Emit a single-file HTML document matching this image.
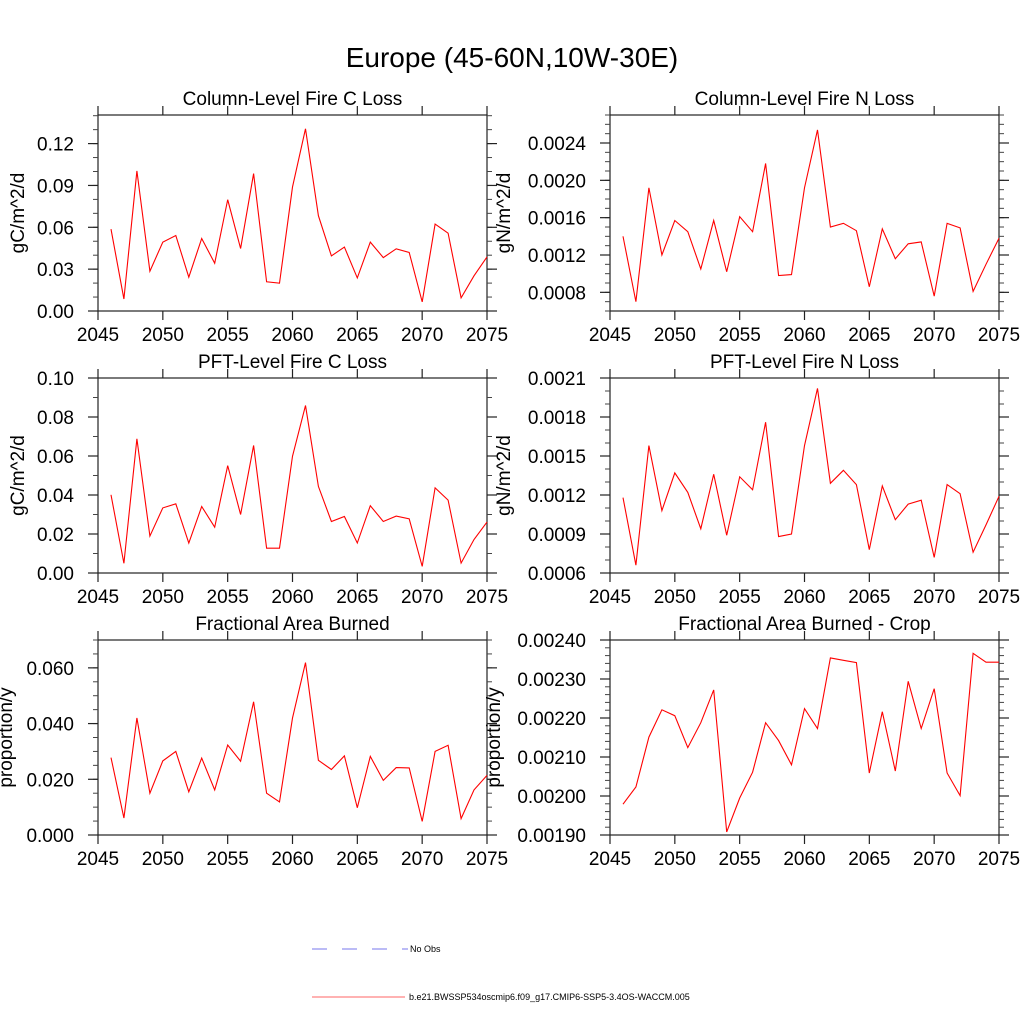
<!DOCTYPE html>
<html><head><meta charset="utf-8"><style>
body{margin:0;background:#fff;}
svg{display:block;font-family:"Liberation Sans",sans-serif;}
</style></head><body>
<svg id="fig" width="1024" height="1024" viewBox="0 0 1024 1024">
<text x="512" y="67" font-size="28" text-anchor="middle">Europe (45-60N,10W-30E)</text>
<g>
<line x1="312" y1="949" x2="408" y2="949" stroke="#7777ee" stroke-width="1" stroke-dasharray="15,15"/>
<text x="410" y="952" font-size="9">No Obs</text>
<line x1="312" y1="997" x2="405" y2="997" stroke="#ff6666" stroke-width="1"/>
<text x="409" y="1000" font-size="9">b.e21.BWSSP534oscmip6.f09_g17.CMIP6-SSP5-3.4OS-WACCM.005</text>
</g>
</svg>
<script>
const years = [2046,2047,2048,2049,2050,2051,2052,2053,2054,2055,2056,2057,2058,2059,2060,2061,2062,2063,2064,2065,2066,2067,2068,2069,2070,2071,2072,2073,2074,2075];
const colFireC = [0.0587,0.0086,0.1004,0.0285,0.0494,0.0541,0.0242,0.0520,0.0343,0.0798,0.0448,0.0985,0.0209,0.0199,0.0889,0.1306,0.0683,0.0395,0.0458,0.0237,0.0494,0.0383,0.0446,0.0419,0.0065,0.0623,0.0558,0.0094,0.0252,0.0388];
const colFireN = [0.00140,0.00070,0.00192,0.00120,0.00157,0.00145,0.00105,0.00157,0.00102,0.00161,0.00145,0.00218,0.00098,0.00099,0.00192,0.00254,0.00150,0.00154,0.00146,0.00086,0.00148,0.00116,0.00132,0.00134,0.00076,0.00154,0.00149,0.00081,0.00110,0.00138];
const pftFireC = [0.0401,0.0050,0.0688,0.0189,0.0334,0.0355,0.0154,0.0341,0.0235,0.0551,0.0300,0.0654,0.0127,0.0127,0.0599,0.0859,0.0444,0.0264,0.0290,0.0154,0.0345,0.0264,0.0292,0.0278,0.0034,0.0437,0.0374,0.0051,0.0172,0.0261];
const pftFireN = [0.00118,0.00066,0.00158,0.00108,0.00137,0.00122,0.00094,0.00136,0.00089,0.00134,0.00124,0.00176,0.00088,0.00090,0.00158,0.00202,0.00129,0.00139,0.00128,0.00078,0.00127,0.00101,0.00113,0.00116,0.00072,0.00128,0.00121,0.00076,0.00097,0.00119];
const fracBurned = [0.0278,0.0061,0.0420,0.0150,0.0266,0.0300,0.0155,0.0276,0.0162,0.0323,0.0265,0.0478,0.0150,0.0119,0.0420,0.0619,0.0268,0.0235,0.0284,0.0098,0.0282,0.0196,0.0242,0.0241,0.0049,0.0300,0.0322,0.0059,0.0162,0.0214];
const fracBurnedCrop = [0.001979,0.002023,0.002151,0.002221,0.002206,0.002124,0.002188,0.002272,0.001908,0.001995,0.002061,0.002188,0.002142,0.002080,0.002224,0.002173,0.002354,0.002348,0.002342,0.002059,0.002216,0.002064,0.002294,0.002173,0.002275,0.002059,0.002001,0.002366,0.002343,0.002343];
const xTicks = [2045,2050,2055,2060,2065,2070,2075];
const ticks1 = ["0.00","0.03","0.06","0.09","0.12"];
const ticks2 = ["0.0008","0.0012","0.0016","0.0020","0.0024"];
const ticks3 = ["0.00","0.02","0.04","0.06","0.08","0.10"];
const ticks4 = ["0.0006","0.0009","0.0012","0.0015","0.0018","0.0021"];
const ticks5 = ["0.000","0.020","0.040","0.060"];
const ticks6 = ["0.00190","0.00200","0.00210","0.00220","0.00230","0.00240"];

const NS="http://www.w3.org/2000/svg";
const svg=document.getElementById('fig');
function mk(tag,attrs,parent){const e=document.createElementNS(NS,tag);for(const k in attrs)e.setAttribute(k,attrs[k]);(parent||svg).appendChild(e);return e;}

const panels=[
 {name:'column-fire-c',title:'Column-Level Fire C Loss',ylab:'gC/m^2/d',data:colFireC,ticks:ticks1,ymin:0,ymax:0.1405,minor:0.01,x0:98,top:115,bot:311,tx:17},
 {name:'column-fire-n',title:'Column-Level Fire N Loss',ylab:'gN/m^2/d',data:colFireN,ticks:ticks2,ymin:0.0006,ymax:0.0027,minor:0.0001,x0:610,top:115,bot:311,tx:503},
 {name:'pft-fire-c',title:'PFT-Level Fire C Loss',ylab:'gC/m^2/d',data:pftFireC,ticks:ticks3,ymin:0,ymax:0.10,minor:0.01,x0:98,top:378,bot:573,tx:17},
 {name:'pft-fire-n',title:'PFT-Level Fire N Loss',ylab:'gN/m^2/d',data:pftFireN,ticks:ticks4,ymin:0.0006,ymax:0.0021,minor:0.0001,x0:610,top:378,bot:573,tx:503},
 {name:'fraction-burned',title:'Fractional Area Burned',ylab:'proportion/y',data:fracBurned,ticks:ticks5,ymin:0,ymax:0.070,minor:0.005,x0:98,top:640,bot:835,tx:5},
 {name:'fraction-burned-crop',title:'Fractional Area Burned - Crop',ylab:'proportion/y',data:fracBurnedCrop,ticks:ticks6,ymin:0.0019,ymax:0.0024,minor:0.00002,x0:610,top:640,bot:835,tx:493}
];
const W=389;
panels.forEach(p=>{
 const g=mk('g',{});
 
 
 const xs=v=>p.x0+(v-2045)/30*W;
 const ys=v=>p.bot-(v-p.ymin)/(p.ymax-p.ymin)*(p.bot-p.top);
 const ax='#222';
 const box=mk('rect',{x:p.x0,y:p.top,width:W,height:p.bot-p.top,fill:'none',stroke:ax,'stroke-width':1.2},g);
 
 
 xTicks.forEach(t=>{
  const x=xs(t);
  mk('line',{x1:x,y1:p.bot,x2:x,y2:p.bot+9,stroke:ax,'stroke-width':1.2},g);
  mk('line',{x1:x,y1:p.top,x2:x,y2:p.top-9,stroke:ax,'stroke-width':1.2},g);
  const tl=mk('text',{x:x,y:p.bot+30,'font-size':19,'text-anchor':'middle'},g);
  tl.textContent=t;
  
  
 });
 const nMin=Math.round((p.ymax-p.ymin)/p.minor);
 for(let i=0;i<=nMin;i++){
  const v=p.ymin+i*p.minor; const y=ys(v);
  if(y<p.top-0.5)continue;
  mk('line',{x1:p.x0,y1:y,x2:p.x0-5,y2:y,stroke:'#444','stroke-width':1},g);
  mk('line',{x1:p.x0+W,y1:y,x2:p.x0+W+5,y2:y,stroke:'#444','stroke-width':1},g);
 }
 p.ticks.forEach(t=>{
  const y=ys(parseFloat(t));
  mk('line',{x1:p.x0,y1:y,x2:p.x0-10,y2:y,stroke:ax,'stroke-width':1.2},g);
  mk('line',{x1:p.x0+W,y1:y,x2:p.x0+W+10,y2:y,stroke:ax,'stroke-width':1.2},g);
  const tl=mk('text',{x:p.x0-24,y:y+7,'font-size':19,'text-anchor':'end'},g);
  tl.textContent=t;
  
  
 });
 const tt=mk('text',{x:p.x0+W/2,y:p.top-10,'font-size':19,'text-anchor':'middle'},g);
 tt.textContent=p.title;
 
 
 const cy=(p.top+p.bot)/2;
 const yl=mk('text',{x:0,y:0,'font-size':19,'text-anchor':'middle',transform:`translate(${p.tx+7},${cy}) rotate(-90)`},g);
 yl.textContent=p.ylab;
 
 
 const pts=p.data.map((v,i)=>xs(years[i]).toFixed(1)+','+ys(v).toFixed(1)).join(' ');
 const ln=mk('polyline',{points:pts,fill:'none',stroke:'#ff0000','stroke-width':1.1},g);
 
 
});
</script>
</body></html>
